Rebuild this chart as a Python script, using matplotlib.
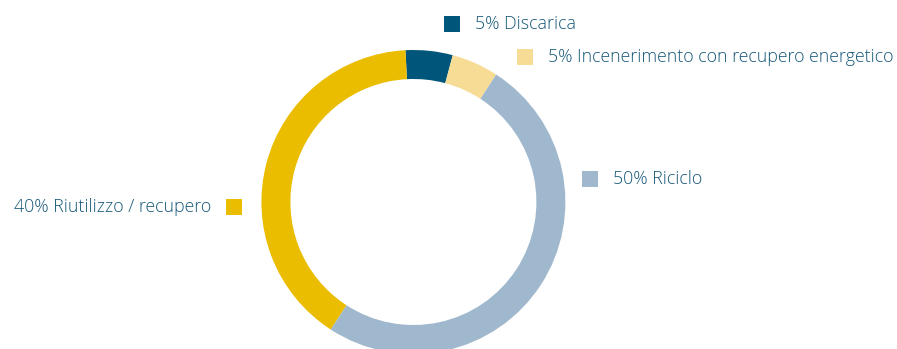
import matplotlib.pyplot as plt
from matplotlib.patches import Rectangle

W, H = 897, 349

labels = ['Discarica', 'Incenerimento con recupero energetico',
          'Riciclo', 'Riutilizzo / recupero']
shares = [5, 5, 50, 40]
colors = ['#00567a', '#f7dc95', '#a0b8cd', '#ebbd00']
text_color = '#175878'

# legend entries: (square left, square top, text x, text align)
legend_pos = [
    (444, 16, 475, 'left'),
    (517, 49, 548, 'left'),
    (582, 171, 613, 'left'),
    (226, 199, 211, 'right'),
]


def main():
    plt.rcParams['font.family'] = ['Open Sans', 'DejaVu Sans']

    fig = plt.figure(figsize=(W / 100, H / 100), dpi=100)
    ax = fig.add_axes([0, 0, 1, 1])

    ax.pie(shares, colors=colors, startangle=93, counterclock=False,
           center=(413.4, H - 202), radius=152,
           wedgeprops={'width': 29, 'linewidth': 0})

    sq = 15.5
    for lab, val, col, (sx, sy, tx, ha) in zip(labels, shares, colors, legend_pos):
        ax.add_patch(Rectangle((sx, H - sy - sq), sq, sq, color=col, lw=0))
        ax.text(tx, H - sy - sq / 2, f'{val}% {lab}', ha=ha, va='center',
                fontsize=12.8, fontweight='light', color=text_color)

    ax.set_xlim(0, W)
    ax.set_ylim(0, H)
    ax.set_aspect('equal')
    ax.axis('off')

    fig.savefig('out.png', dpi=100)


if __name__ == '__main__':
    main()
